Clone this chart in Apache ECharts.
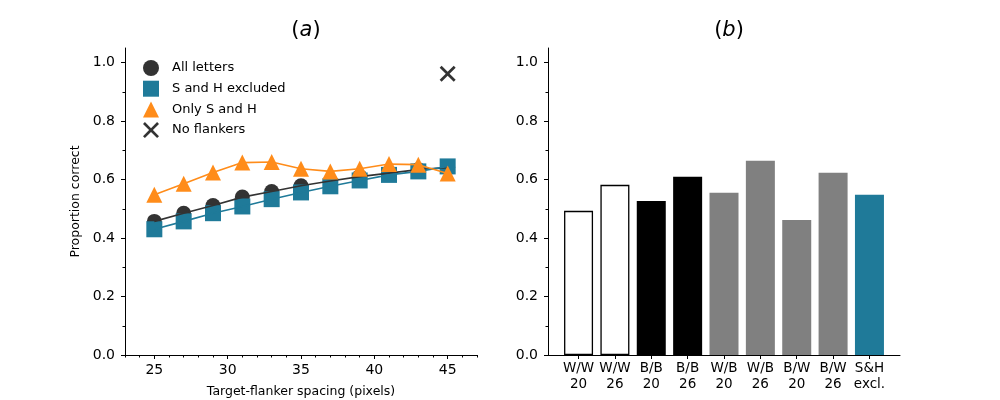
<!DOCTYPE html>
<html>
<head>
<meta charset="utf-8">
<script src="https://cdn.jsdelivr.net/npm/echarts@6/dist/echarts.min.js"></script>
<style>
  html, body { margin: 0; padding: 0; background: #fff; }
  #chart { width: 1000px; height: 400px; }
</style>
</head>
<body>
<div id="chart"></div>
<script>
// panel (a) data
const spacing = [25, 27, 29, 31, 33, 35, 37, 39, 41, 43, 45];
const allLetters = [0.457, 0.485, 0.511, 0.540, 0.559, 0.579, 0.595, 0.610, 0.622, 0.634, 0.641];
const shExcluded = [0.430, 0.457, 0.485, 0.508, 0.533, 0.556, 0.577, 0.597, 0.616, 0.628, 0.645];
const onlySH = [0.548, 0.586, 0.624, 0.658, 0.660, 0.637, 0.628, 0.637, 0.653, 0.651, 0.621];
const noFlankers = [[45, 0.962]];

// panel (b) data
const barLabels = ['W/W\n20', 'W/W\n26', 'B/B\n20', 'B/B\n26', 'W/B\n20', 'W/B\n26', 'B/W\n20', 'B/W\n26', 'S&H\nexcl.'];
const barValues = [0.493, 0.582, 0.527, 0.610, 0.555, 0.664, 0.462, 0.623, 0.548];
const barFill = ['#ffffff', '#ffffff', '#000000', '#000000', '#808080', '#808080', '#808080', '#808080', '#1f7a99'];

const yMajor = [0, 0.2, 0.4, 0.6, 0.8, 1.0];
const yMinor = [0.1, 0.3, 0.5, 0.7, 0.9];
const xMajor = [25, 30, 35, 40, 45];

const DARK = '#333333', TEAL = '#1f7a99', ORANGE = '#ff8c1a';
const FONT = 'DejaVu Sans';
const xPath = 'path://M1.2,0 L5,3.8 L8.8,0 L10,1.2 L6.2,5 L10,8.8 L8.8,10 L5,6.2 L1.2,10 L0,8.8 L3.8,5 L0,1.2 Z';

const chart = echarts.init(document.getElementById('chart'));

function yAxes(gridIndex, withName) {
  return [
    {
      gridIndex, type: 'value', min: 0, max: 1.05,
      name: withName ? 'Proportion correct' : '',
      nameLocation: 'middle', nameGap: 43,
      nameTextStyle: { fontFamily: FONT, fontSize: 12.5, color: '#000' },
      axisLine: { show: true, onZero: false, lineStyle: { color: '#000', width: 1 } },
      axisTick: { show: true, length: 4, customValues: yMajor, lineStyle: { color: '#000' } },
      axisLabel: { customValues: yMajor, margin: 10, fontFamily: FONT, fontSize: 14, color: '#000',
        formatter: v => v.toFixed(1) },
      splitLine: { show: false }
    },
    {
      gridIndex, type: 'value', min: 0, max: 1.05, position: 'left',
      axisLine: { show: false, onZero: false },
      axisTick: { show: true, length: 2.5, customValues: yMinor, lineStyle: { color: '#000' } },
      axisLabel: { show: false },
      splitLine: { show: false }
    }
  ];
}

const titleRich = {
  p: { fontFamily: FONT, fontSize: 21, fontWeight: 'normal', color: '#000' },
  i: { fontFamily: FONT, fontSize: 21, fontWeight: 'normal', fontStyle: 'italic', color: '#000' }
};

const option = {
  animation: false,
  textStyle: { fontFamily: FONT },
  title: [
    { text: '{p|(}{i|a}{p|)}', left: 301, top: 15, textAlign: 'center', textStyle: { fontWeight: 'normal', rich: titleRich } },
    { text: '{p|(}{i|b}{p|)}', left: 724, top: 15, textAlign: 'center', textStyle: { fontWeight: 'normal', rich: titleRich } }
  ],
  legend: {
    orient: 'vertical', left: 138, top: 55, itemWidth: 16, itemHeight: 16, itemGap: 4.7,
    textStyle: { fontFamily: FONT, fontSize: 13, color: '#000', padding: [0, 0, 0, 8] },
    selectedMode: false,
    data: [
      { name: 'All letters', icon: 'circle' },
      { name: 'S and H excluded', icon: 'rect' },
      { name: 'Only S and H', icon: 'triangle' },
      { name: 'No flankers', icon: xPath }
    ]
  },
  grid: [
    { left: 125, top: 48, width: 352, height: 307, outerBoundsMode: 'none' },
    { left: 548, top: 48, width: 352, height: 307, outerBoundsMode: 'none' }
  ],
  xAxis: [
    {
      gridIndex: 0, type: 'value', min: 23, max: 47,
      name: 'Target-flanker spacing (pixels)', nameLocation: 'middle', nameGap: 30,
      nameTextStyle: { fontFamily: FONT, fontSize: 12.5, color: '#000' },
      axisLine: { show: true, onZero: false, lineStyle: { color: '#000', width: 1 } },
      axisTick: { show: true, length: 4, customValues: xMajor, lineStyle: { color: '#000' } },
      axisLabel: { customValues: xMajor, margin: 8, fontFamily: FONT, fontSize: 14, color: '#000' },
      splitLine: { show: false }
    },
    {
      gridIndex: 0, type: 'value', min: 23, max: 47, interval: 1, position: 'bottom',
      axisLine: { show: false, onZero: false },
      axisTick: { show: true, length: 2.5, lineStyle: { color: '#000' } },
      axisLabel: { show: false },
      splitLine: { show: false }
    },
    {
      gridIndex: 1, type: 'value', min: -0.84, max: 8.84,
      axisLine: { show: true, onZero: false, lineStyle: { color: '#000', width: 1 } },
      axisTick: { show: true, length: 4, customValues: barLabels.map((_, i) => i), lineStyle: { color: '#000' } },
      axisLabel: { customValues: barLabels.map((_, i) => i), margin: 5, fontFamily: FONT, fontSize: 13.5,
        lineHeight: 16, color: '#000', formatter: v => barLabels[Math.round(v)] },
      splitLine: { show: false }
    }
  ],
  yAxis: [...yAxes(0, true), ...yAxes(1, false)],
  series: [
    {
      name: 'All letters', type: 'scatter', xAxisIndex: 0, yAxisIndex: 0, z: 2,
      symbol: 'circle', symbolSize: 15, itemStyle: { color: DARK, opacity: 1 },
      data: spacing.map((x, i) => [x, allLetters[i]])
    },
    {
      name: 'S and H excluded', type: 'scatter', xAxisIndex: 0, yAxisIndex: 0, z: 3,
      symbol: 'rect', symbolSize: 16, itemStyle: { color: TEAL, opacity: 1 },
      data: spacing.map((x, i) => [x, shExcluded[i]])
    },
    {
      name: 'all-line', type: 'line', xAxisIndex: 0, yAxisIndex: 0, z: 4,
      showSymbol: false, lineStyle: { color: DARK, width: 1.6 },
      data: spacing.map((x, i) => [x, allLetters[i]])
    },
    {
      name: 'excl-line', type: 'line', xAxisIndex: 0, yAxisIndex: 0, z: 4,
      showSymbol: false, lineStyle: { color: TEAL, width: 1.6 },
      data: spacing.map((x, i) => [x, shExcluded[i]])
    },
    {
      name: 'Only S and H', type: 'line', xAxisIndex: 0, yAxisIndex: 0, z: 5,
      symbol: 'triangle', symbolSize: 16, showAllSymbol: true,
      itemStyle: { color: ORANGE }, lineStyle: { color: ORANGE, width: 1.6 },
      data: spacing.map((x, i) => [x, onlySH[i]])
    },
    {
      name: 'No flankers', type: 'scatter', xAxisIndex: 0, yAxisIndex: 0, z: 6,
      symbol: xPath, symbolSize: 16, itemStyle: { color: '#000' },
      data: noFlankers
    },
    {
      name: 'bars', type: 'bar', xAxisIndex: 2, yAxisIndex: 2, barWidth: 29,
      data: barValues.map((v, i) => ({
        value: [i, v],
        itemStyle: { color: barFill[i], borderColor: '#000', borderWidth: barFill[i] === '#ffffff' ? 1.3 : 0 }
      }))
    }
  ]
};

chart.setOption(option);
</script>
</body>
</html>
